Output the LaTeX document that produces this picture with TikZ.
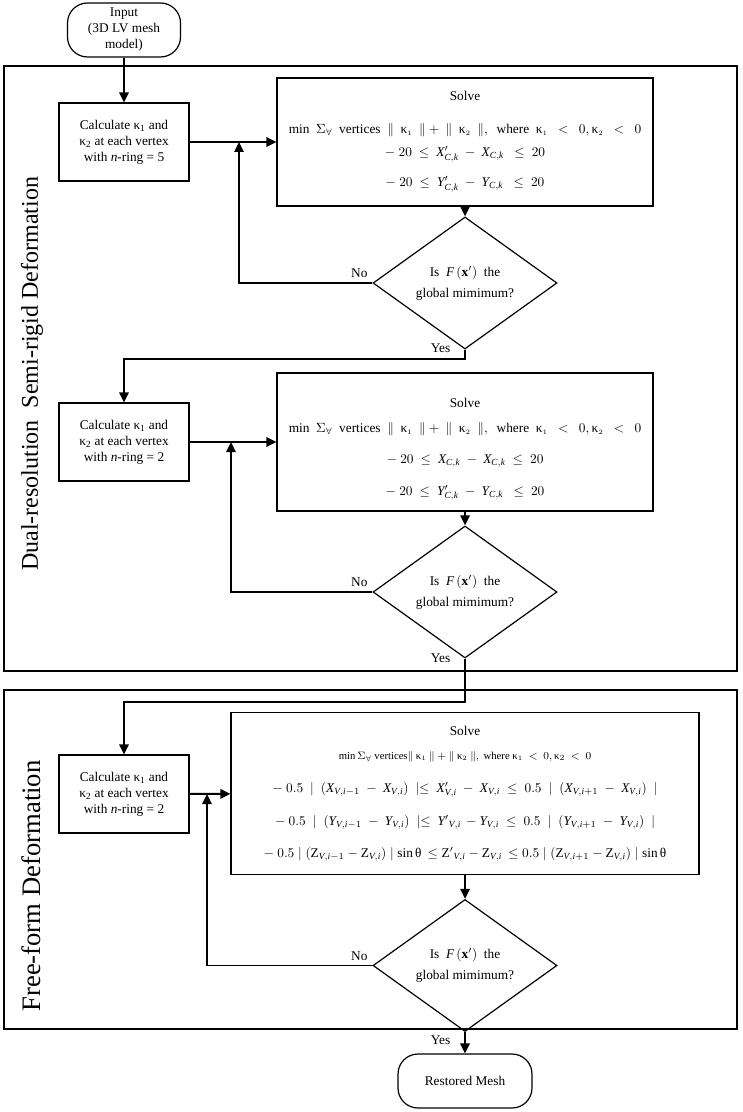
\documentclass[tikz,border=0pt]{standalone}
\usepackage{amsmath}
\usepackage{amssymb}
\usepackage{fontspec}
\setmainfont{Liberation Serif}
\usepackage{tikz}
\usetikzlibrary{arrows.meta,shapes,positioning}

\tikzset{
  >={Triangle[length=7.5pt,width=7pt]},
  frame/.style={line width=0.9pt},
  calcbox/.style={draw, line width=0.9pt, minimum width=97.5pt, minimum height=58.5pt, align=center, inner sep=2pt},
  solvebox/.style={draw, line width=0.9pt, align=center, inner sep=2pt},
  decision/.style={draw, diamond, line width=0.9pt, minimum width=138pt, minimum height=84pt, align=center, inner sep=0pt},
  terminal/.style={draw, rounded corners=15pt, line width=0.9pt, align=center, inner sep=2pt},
  flow/.style={->, line width=1.4pt},
  sidelabel/.style={rotate=90},
  nolabel/.style={anchor=south east, inner sep=3pt},
  yeslabel/.style={anchor=north east, xshift=-7pt, yshift=8.5pt},
}

\begin{document}
\begin{tikzpicture}[x=0.75pt, y=-0.75pt, font=\fontsize{10}{12}\selectfont]
  \useasboundingbox (0,0) rectangle (742,1112);

  % Frames of the two stages
  \draw[frame] (4,66) rectangle (737,671);
  \draw[frame] (4,690) rectangle (737,1029);
  \node[sidelabel, font=\fontsize{18}{20}\selectfont] (stage1) at (32,374) {Dual-resolution\ \ Semi-rigid Deformation};
  \node[sidelabel, font=\fontsize{20}{22}\selectfont] (stage2) at (31,886) {Free-form Deformation};

  % Start
  \node[terminal, minimum width=84.75pt, minimum height=40.5pt] (input) at (124,30) {Input\\(3D LV mesh\\model)};

  % Stage 1, n-ring = 5
  \node[calcbox] (calc1) at (124,142) {Calculate κ\textsubscript{1} and\\κ\textsubscript{2} at each vertex\\with \textit{n}-ring = 5};
  \node[solvebox, minimum width=282pt, minimum height=96pt] (solve1) at (465,142) {Solve\\[12.75pt]
    $\mathrm{min}\ \ \Sigma_{\forall}\ \ \text{vertices}\ \ \|\ \ \text{κ}_{\scriptscriptstyle 1}\ \ \|+\ \|\ \ \text{κ}_{\scriptscriptstyle 2}\ \ \|,\ \ \text{where}\ \ \text{κ}_{\scriptscriptstyle 1}\ \ <\ \ 0,\text{κ}_{\scriptscriptstyle 2}\ \ <\ \ 0$\\[5.25pt]
    $-\ 20\ \le\ \mathit{X}'_{\mathit{C},\mathit{k}}\ -\ \mathit{X}_{\mathit{C},\mathit{k}}\ \ \le\ 20$\\[10.5pt]
    $-\ 20\ \le\ \mathit{Y}'_{\mathit{C},\mathit{k}}\ -\ \mathit{Y}_{\mathit{C},\mathit{k}}\ \ \le\ 20$};
  \node[decision] (dec1) at (465,283) {Is\ \ $\mathit{F}\,(\mathbf{x}')$\ \ the\\[3.75pt]global mimimum?};

  % Stage 1, n-ring = 2
  \node[calcbox] (calc2) at (124,442) {Calculate κ\textsubscript{1} and\\κ\textsubscript{2} at each vertex\\with \textit{n}-ring = 2};
  \node[solvebox, minimum width=282pt, minimum height=103.5pt] (solve2) at (465,442) {\rule{0pt}{18pt}Solve\\[6.75pt]
    $\mathrm{min}\ \ \Sigma_{\forall}\ \ \text{vertices}\ \ \|\ \ \text{κ}_{\scriptscriptstyle 1}\ \ \|+\ \|\ \ \text{κ}_{\scriptscriptstyle 2}\ \ \|,\ \ \text{where}\ \ \text{κ}_{\scriptscriptstyle 1}\ \ <\ \ 0,\text{κ}_{\scriptscriptstyle 2}\ \ <\ \ 0$\\[11.25pt]
    $-\ 20\ \le\ \mathit{X}_{\mathit{C},\mathit{k}}\ -\ \mathit{X}_{\mathit{C},\mathit{k}}\ \le\ 20$\\[12pt]
    $-\ 20\ \le\ \mathit{Y}'_{\mathit{C},\mathit{k}}\ -\ \mathit{Y}_{\mathit{C},\mathit{k}}\ \ \le\ 20$};
  \node[decision] (dec2) at (465,592) {Is\ \ $\mathit{F}\,(\mathbf{x}')$\ \ the\\[3.75pt]global mimimum?};

  % Stage 2, free-form
  \node[calcbox] (calc3) at (124,794) {Calculate κ\textsubscript{1} and\\κ\textsubscript{2} at each vertex\\with \textit{n}-ring = 2};
  \node[solvebox, minimum width=351pt, minimum height=121pt] (solve3) at (465,793.5) {Solve\\[6pt]
    {\footnotesize $\mathrm{min}\,\Sigma_{\forall}\ \text{vertices}\|\ \text{κ}_{\scriptscriptstyle 1}\ \|+\|\ \text{κ}_{\scriptscriptstyle 2}\ \|,\ \text{where}\ \text{κ}_{\scriptscriptstyle 1}\ <\ 0,\text{κ}_{2}\ <\ 0$}\\[12.75pt]
    $-\ 0.5\ \mid\ (\mathit{X}_{\mathit{V},\mathit{i}-1}\ -\ \mathit{X}_{\mathit{V},\mathit{i}})\ \mid\le\ \mathit{X}'_{\mathit{V},\mathit{i}}\ -\ \mathit{X}_{\mathit{V},\mathit{i}}\ \le\ 0.5\ \mid\ (\mathit{X}_{\mathit{V},\mathit{i}+1}\ -\ \mathit{X}_{\mathit{V},\mathit{i}})\ \mid$\\[12.75pt]
    $-\ 0.5\ \mid\ (\mathit{Y}_{\mathit{V},\mathit{i}-1}\ -\ \mathit{Y}_{\mathit{V},\mathit{i}})\ \mid\le\ \mathit{Y}'{}_{\mathit{V},\mathit{i}}\,-\mathit{Y}_{\mathit{V},\mathit{i}}\ \le\ 0.5\ \mid\ (\mathit{Y}_{\mathit{V},\mathit{i}+1}\ -\ \mathit{Y}_{\mathit{V},\mathit{i}})\ \mid$\\[12pt]
    $-\ 0.5\mid(\mathrm{Z}_{\mathit{V},\mathit{i}-1}-\mathrm{Z}_{\mathit{V},\mathit{i}})\mid\mathrm{sin}\,\text{θ}\,\le \mathrm{Z}'{}_{\mathit{V},\mathit{i}}-\mathrm{Z}_{\mathit{V},\mathit{i}}\,\le 0.5\mid(\mathrm{Z}_{\mathit{V},\mathit{i}+1}-\mathrm{Z}_{\mathit{V},\mathit{i}})\mid\mathrm{sin}\,\text{θ}$};
  \node[decision] (dec3) at (465,965.5) {Is\ \ $\mathit{F}\,(\mathbf{x}')$\ \ the\\[3.75pt]global mimimum?};

  % End
  \node[terminal, minimum width=100.5pt, minimum height=40.5pt] (mesh) at (465,1081) {Restored Mesh};

  % Turning points
  \coordinate (back1) at (239,142);
  \coordinate (back2) at (231,442);
  \coordinate (back3) at (207,794);
  \coordinate (next1) at (124,359);
  \coordinate (next2) at (124,702);

  % Connectors
  \draw[flow] (input) -- (calc1);
  \draw[flow] (calc1) -- (solve1);
  \draw[flow] (solve1) -- (dec1);
  \draw[flow] (dec1.west) node[nolabel] {No} -| (back1);
  \draw[flow] (dec1.south) node[yeslabel] {Yes} |- (next1) -- (calc2);

  \draw[flow] (calc2) -- (solve2);
  \draw[flow] (solve2) -- (dec2);
  \draw[flow] (dec2.west) node[nolabel] {No} -| (back2);
  \draw[flow] (dec2.south) node[yeslabel, yshift=-1pt] {Yes} |- (next2) -- (calc3);

  \draw[flow] (calc3) -- (solve3);
  \draw[flow] (solve3) -- (dec3);
  \draw[flow] (dec3.west) node[nolabel] {No} -| (back3);
  \draw[flow] (dec3.south) node[yeslabel, yshift=-7.5pt] {Yes} -- (mesh);
\end{tikzpicture}
\end{document}
